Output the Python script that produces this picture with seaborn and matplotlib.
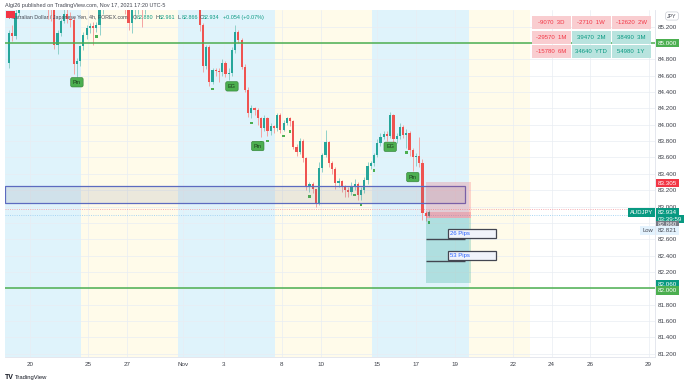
import numpy as np
import matplotlib
matplotlib.use("Agg")
import matplotlib.pyplot as plt
import matplotlib.transforms as mtrans
from matplotlib.patches import Rectangle
import seaborn as sns

# ---------------- data ----------------
first_open = 84.76
close = [
    85.12, 85.08, 85.37, 85.55, 85.68, 85.62, 85.75, 85.80, 85.72, 85.85,
    85.90, 85.70, 85.55, 85.50, 84.97, 85.12, 85.27, 85.35, 85.30, 85.28,
    84.74, 84.78, 84.96, 85.10, 85.18, 85.21, 85.18, 85.22, 85.40, 85.55,
    85.62, 85.58, 85.68, 85.72, 85.64, 85.58, 85.52, 85.25, 85.40, 85.55,
    85.60, 85.42, 85.55, 85.62, 85.70, 85.66, 85.75, 85.80, 85.74, 85.82,
    85.78, 85.70, 85.62, 85.66, 85.70, 85.74, 85.68, 85.72, 85.60, 85.22,
    84.72, 84.95, 84.52, 84.67, 84.66, 84.64, 84.76, 84.62, 84.63, 84.91,
    85.13, 85.04, 84.71, 84.43, 84.14, 84.20, 84.18, 84.08, 83.96, 84.08,
    83.92, 83.98, 83.96, 84.12, 83.94, 84.02, 84.08, 84.05, 83.73, 83.67,
    83.80, 83.59, 83.24, 83.27, 83.21, 83.04, 83.47, 83.63, 83.79, 83.53,
    83.46, 83.29, 83.31, 83.24, 83.20, 83.18, 83.25, 83.27, 83.14, 83.20,
    83.32, 83.50, 83.53, 83.63, 83.78, 83.85, 83.89, 83.86, 84.12, 83.82,
    83.86, 83.97, 83.88, 83.90, 83.69, 83.60, 83.62, 83.53, 82.92, 82.88,
    82.934]
high = [
    85.16, 85.22, 85.45, 85.62, 85.75, 85.78, 85.82, 85.92, 85.88, 85.95,
    86.02, 85.95, 85.75, 85.62, 85.58, 85.16, 85.30, 85.45, 85.48, 85.38,
    85.32, 84.82, 84.98, 85.13, 85.22, 85.25, 85.26, 85.26, 85.46, 85.62,
    85.70, 85.72, 85.75, 85.80, 85.78, 85.70, 85.66, 85.55, 85.45, 85.62,
    85.66, 85.65, 85.60, 85.70, 85.78, 85.80, 85.85, 85.90, 85.86, 85.92,
    85.88, 85.84, 85.75, 85.72, 85.78, 85.82, 85.80, 85.78, 85.76, 85.64,
    85.25, 84.98, 84.97, 84.70, 84.70, 84.70, 84.80, 84.78, 84.70, 84.95,
    85.22, 85.16, 85.06, 84.74, 84.46, 84.24, 84.22, 84.20, 84.10, 84.12,
    84.10, 84.02, 84.00, 84.14, 84.14, 84.06, 84.10, 84.10, 84.06, 83.76,
    83.84, 83.82, 83.60, 83.30, 83.30, 83.22, 83.55, 83.66, 83.94, 83.80,
    83.56, 83.48, 83.35, 83.32, 83.26, 83.24, 83.30, 83.34, 83.30, 83.24,
    83.36, 83.54, 83.56, 83.66, 83.82, 83.90, 83.92, 83.92, 84.16, 84.13,
    83.90, 84.02, 84.00, 83.95, 83.92, 83.72, 83.66, 83.85, 83.58, 82.94,
    82.961]
low = [
    84.70, 85.02, 85.05, 85.33, 85.50, 85.55, 85.58, 85.70, 85.66, 85.68,
    85.80, 85.60, 85.30, 85.27, 84.93, 84.86, 85.08, 85.24, 85.25, 85.20,
    84.62, 84.58, 84.72, 84.92, 85.05, 85.12, 84.97, 85.14, 85.10, 85.36,
    85.48, 85.50, 85.52, 85.60, 85.55, 85.44, 85.35, 85.16, 85.12, 85.30,
    85.35, 85.20, 85.36, 85.45, 85.55, 85.58, 85.60, 85.70, 85.65, 85.70,
    85.66, 85.55, 85.48, 85.50, 85.56, 85.62, 85.55, 85.58, 85.48, 85.15,
    84.65, 84.68, 84.48, 84.50, 84.60, 84.52, 84.60, 84.58, 84.55, 84.60,
    84.88, 85.00, 84.68, 84.40, 84.10, 84.08, 84.12, 84.00, 83.85, 83.92,
    83.86, 83.88, 83.90, 83.92, 83.90, 83.92, 84.00, 83.98, 83.70, 83.62,
    83.64, 83.54, 83.20, 83.18, 83.16, 82.99, 83.02, 83.42, 83.60, 83.48,
    83.40, 83.22, 83.24, 83.18, 83.12, 83.12, 83.14, 83.20, 83.08, 83.08,
    83.16, 83.28, 83.46, 83.50, 83.60, 83.74, 83.82, 83.80, 83.84, 83.78,
    83.78, 83.82, 83.84, 83.72, 83.62, 83.44, 83.50, 83.48, 82.84, 82.821,
    82.866]

price_tick_labels = ["81.200", "81.400", "81.600", "81.800", "82.000", "82.200",
                     "82.400", "82.600", "82.800", "83.000", "83.200", "83.400",
                     "83.600", "83.800", "84.000", "84.200", "84.400", "84.600",
                     "84.800", "85.000", "85.200"]
hidden_price_labels = ["82.000", "82.800", "85.000"]
date_labels = ["20", "25", "27", "Nov", "3", "8", "10", "15", "17", "19", "22", "24", "26", "29"]
date_pos = [6.5, 24.5, 36.5, 54, 66.5, 84.5, 96.5, 114, 126, 138, 156, 168, 180, 198]
session_bounds = [22.3, 52.3, 82.3, 112.3, 142.3, 161.3]

level_lines = [85.0, 82.0]
zone_low, zone_high, zone_end = 83.04, 83.25, 141.1
pos_start, pos_end = 129.1, 143.0
entry, stop, target = 82.86, 83.305, 82.06
pip_counts = [26, 53]
pattern_text = ["Pin", "EG", "Pin", "EG", "Pin"]
pattern_idx = [21, 69, 77, 118, 125]
pattern_price = [84.52, 84.47, 83.74, 83.73, 83.36]
marker_idx = [27, 63, 75, 78, 80, 85, 87, 93, 107, 109, 113, 117, 123, 130]

perf_values = [[-9070, -2710, -12620], [-29570, 39470, 38490], [-15780, 34640, 54980]]
perf_periods = [["3D", "1W", "2W"], ["1M", "2M", "3M"], ["6M", "YTD", "1Y"]]

# ---------------- style ----------------
sns.set_theme(style="white")
plt.rcParams["font.family"] = ["Liberation Sans", "DejaVu Sans"]

UP, DOWN = "#26a69a", "#ef5350"

W, H = 690, 385
fig = plt.figure(figsize=(W / 100, H / 100), dpi=100)
fig.patch.set_facecolor("white")

def fx(px):
    return px / W

def fy(py):
    return 1 - py / H

ax = fig.add_axes([fx(5), fy(357), 650 / W, 347 / H])
ax.set_facecolor("white")
XL = (-1.27, 200.0)
YL = (81.159, 85.404)

# session shading
bands = [XL[0]] + session_bounds
for k in range(len(bands) - 1):
    col = "#dff3fb" if k % 2 == 0 else "#fffbea"
    ax.axvspan(bands[k], bands[k + 1], color=col, lw=0, zorder=0)

# grid
price_ticks = [float(s) for s in price_tick_labels]
for p in price_ticks:
    ax.axhline(p, color="#e9edf3", lw=0.5, zorder=0.5)
for d in date_pos:
    ax.axvline(d, color="#e9edf3", lw=0.5, zorder=0.5)

# dotted reference lines
ax.axhline(82.975, color="#f6a3a9", lw=0.6, ls=(0, (1.2, 1.5)), zorder=1)
ax.axhline(82.90, color="#9fd0f2", lw=0.6, ls=(0, (1.2, 1.5)), zorder=1)

# candles
c = np.array(close)
hi = np.array(high)
lo = np.array(low)
o = np.r_[first_open, c[:-1]]
idx = np.arange(len(c))
up = c >= o
cols = np.where(up, UP, DOWN)
wick_cols = np.where(up, "#8fd1ca", "#f5a3a2")
ax.vlines(idx, lo, hi, colors=wick_cols, lw=0.7, zorder=2)
body_h = np.maximum(np.abs(c - o), 0.01)
ax.bar(idx, body_h, bottom=np.minimum(o, c), width=0.68, color=cols, lw=0, zorder=3)

# markers below candles
sns.scatterplot(x=np.array(marker_idx), y=lo[marker_idx] - 0.06, marker="s", s=3,
                color="#4caf50", edgecolor="none", ax=ax, zorder=4, legend=False)

# horizontal levels
for lv in level_lines:
    ax.axhline(lv, color="#4caf50", lw=1.1, zorder=5)

# zone
ax.add_patch(Rectangle((XL[0], zone_low), zone_end - XL[0], zone_high - zone_low,
                       fc=(0.47, 0.48, 0.53, 0.14), ec="#5c6bc0", lw=0.9, zorder=4))

# position tool
pw = pos_end - pos_start
ax.add_patch(Rectangle((pos_start, entry), pw, stop - entry, fc=(0.95, 0.21, 0.27, 0.2), ec="none", zorder=4))
ax.add_patch(Rectangle((pos_start, entry), pw, c[-1] - entry, fc=(0.95, 0.21, 0.27, 0.22), ec="none", zorder=4))
ax.add_patch(Rectangle((pos_start, target), pw, entry - target, fc=(0.03, 0.6, 0.5, 0.22), ec="none", zorder=4))

# pip annotations
for pc in pip_counts:
    lvl = entry - pc / 100
    ax.hlines(lvl, pos_start, zone_end, color="#434651", lw=1.0, zorder=6)
    ax.add_patch(Rectangle((135.9, lvl + 0.02), 14.8, 0.11, fc="#f0f3fa", ec="#434651", lw=0.9, zorder=6))
    ax.text(136.4, lvl + 0.075, f"{pc} Pips", color="#2962ff", fontsize=4.3, va="center", ha="left", zorder=7)

# pattern labels
for t, i, p in zip(pattern_text, pattern_idx, pattern_price):
    ax.text(i, p, t, fontsize=4.0, color="#1b3d1e", ha="center", va="center", zorder=7,
            bbox=dict(boxstyle="round,pad=0.4,rounding_size=0.3", fc="#4caf50", ec="#2e7d32", lw=0.4))

ax.set_xlim(*XL)
ax.set_ylim(*YL)

# axes ticks
ax.yaxis.tick_right()
ax.set_yticks(price_ticks)
ax.set_yticklabels(["" if s in hidden_price_labels else s for s in price_tick_labels],
                   fontsize=4.5, color="#3c3f48")
ax.set_xticks(date_pos)
ax.set_xticklabels(date_labels, fontsize=4.5, color="#3c3f48")
ax.tick_params(axis="both", length=0)
ax.tick_params(axis="y", pad=2.2)
ax.tick_params(axis="x", pad=3.5)
for s in ["left", "top"]:
    ax.spines[s].set_visible(False)
for s in ["right", "bottom"]:
    ax.spines[s].set_color("#e0e3eb")
    ax.spines[s].set_linewidth(0.6)

trans = mtrans.blended_transform_factory(ax.transAxes, ax.transData)

def price_tag(price, text, fc, tc="white", dy_px=0.0):
    ax.annotate(text, xy=(1.0, price), xycoords=trans, xytext=(2.0, -dy_px * 0.72),
                textcoords="offset points", fontsize=4.5, color=tc, va="center", ha="left",
                annotation_clip=False,
                bbox=dict(boxstyle="square,pad=0.3", fc=fc, ec="none"), zorder=10)

price_tag(85.0, "85.000", "#4caf50")
price_tag(stop, "83.305", "#f23645", dy_px=1.5)
price_tag(c[-1], "82.934", "#089981", dy_px=0.8)
price_tag(c[-1], "03:39:59", "#089981", dy_px=7.2)
price_tag(entry, "82.860", "#787b86", dy_px=7.0)
price_tag(min(lo), "82.821", "#e3f2fd", tc="#434651", dy_px=9.5)
price_tag(target, "82.060", "#089981", dy_px=1.5)
price_tag(82.0, "82.000", "#4caf50", dy_px=2.5)

ax.annotate("AUDJPY", xy=(1.0, c[-1]), xycoords=trans, xytext=(-1.5, -0.6),
            textcoords="offset points", fontsize=4.2, color="white", va="center", ha="right",
            annotation_clip=False, bbox=dict(boxstyle="square,pad=0.3", fc="#089981", ec="none"), zorder=10)
ax.annotate("Low", xy=(1.0, min(lo)), xycoords=trans, xytext=(-1.5, -6.8),
            textcoords="offset points", fontsize=4.2, color="#434651", va="center", ha="right",
            annotation_clip=False, bbox=dict(boxstyle="square,pad=0.3", fc="#e3f2fd", ec="none"), zorder=10)

# JPY tag
fig.text(fx(672), fy(16), "JPY", fontsize=3.8, color="#434651", ha="center", va="center",
         bbox=dict(boxstyle="round,pad=0.3,rounding_size=0.4", fc="white", ec="#c9ccd4", lw=0.5))

# performance table
col_x = [532, 572, 612]
row_y = [16, 31, 45]
for r in range(3):
    for k in range(3):
        v = perf_values[r][k]
        neg = v < 0
        fc = "#f9cdd0" if neg else "#b8e3de"
        tc = "#f23645" if neg else "#089981"
        x0, y0 = col_x[k], row_y[r]
        fig.add_artist(Rectangle((fx(x0), fy(y0 + 13)), 38.5 / W, 13 / H, transform=fig.transFigure,
                                 fc=fc, ec="none", zorder=20))
        fig.text(fx(x0 + 19), fy(y0 + 6.7), f"{v}  {perf_periods[r][k]}", fontsize=4.3, color=tc,
                 ha="center", va="center", zorder=21)

# header & legend texts
fig.text(fx(5), fy(5.5), "Algi26 published on TradingView.com, Nov 17, 2021 17:20 UTC-5",
         fontsize=4.0, color="#434651", ha="left", va="center")
fig.text(fx(9), fy(17.5), "Australian Dollar / Japanese Yen, 4h, FOREX.com",
         fontsize=3.75, color="#434651", ha="left", va="center", zorder=30)
fig.add_artist(Rectangle((fx(5.5), fy(18)), 9 / W, 7 / H, transform=fig.transFigure,
                         fc="#f23645", ec="none", zorder=31))
ohlc = [("O", "82.880", 133), ("H", "82.961", 155.5), ("L", "82.866", 178), ("C", "82.934", 199.5)]
for letter, val, px in ohlc:
    fig.text(fx(px), fy(17.5), letter, fontsize=3.9, color="#434651", ha="left", va="center", zorder=30)
    fig.text(fx(px + 3.4), fy(17.5), val, fontsize=3.9, color="#089981", ha="left", va="center", zorder=30)
fig.text(fx(223), fy(17.5), "+0.054 (+0.07%)", fontsize=3.9, color="#089981", ha="left", va="center", zorder=30)

# footer
fig.text(fx(5), fy(377.5), "TV", fontsize=5, fontweight="bold", color="#131722", ha="left", va="center")
fig.text(fx(14.5), fy(377.5), "TradingView", fontsize=4.2, color="#131722", ha="left", va="center")

fig.savefig("out.png", dpi=100)
